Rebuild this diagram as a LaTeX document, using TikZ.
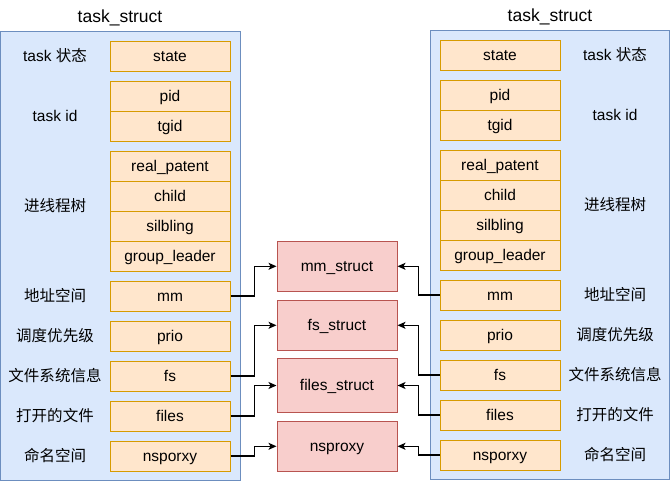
\documentclass[tikz,border=0pt]{standalone}
\usepackage{fontspec}
\setmainfont{Liberation Sans}
\newfontfamily\cjk{Noto Sans CJK SC}
\usetikzlibrary{arrows.meta}
\definecolor{panelfill}{HTML}{DAE8FC}
\definecolor{paneldraw}{HTML}{6C8EBF}
\definecolor{fieldfill}{HTML}{FFE6CC}
\definecolor{fielddraw}{HTML}{D79B00}
\definecolor{structfill}{HTML}{F8CECC}
\definecolor{structdraw}{HTML}{B85450}
\tikzset{
  txt/.style={font=\fontsize{15.5}{18}\selectfont, text height=13.5pt, text depth=3.5pt},
  panel/.style={draw=paneldraw, fill=panelfill, line width=1pt},
  field/.style={txt, draw=fielddraw, fill=fieldfill, line width=1pt, minimum width=120pt, minimum height=30pt, inner sep=0pt},
  sbox/.style={txt, draw=structdraw, fill=structfill, line width=1pt, minimum width=120pt, minimum height=50pt, inner sep=0pt},
  lbl/.style={txt, inner sep=0pt},
  ttl/.style={inner sep=0pt, font=\fontsize{17.5}{20}\selectfont, text height=15pt, text depth=4pt},
  arr/.style={draw=black, line width=1.2pt, -{Stealth[length=8pt,width=7pt,inset=2pt]}},
}
\begin{document}
\begin{tikzpicture}[x=1pt,y=-1pt]
\useasboundingbox (0,0) rectangle (671,482);
% panels
\draw[panel] (0.5,31.5) rectangle (240.5,480.5);
\draw[panel] (430.5,30.5) rectangle (669.5,479.5);
\node[ttl] (Ltitle) at (120,16.5) {task\_struct};
\node[ttl] (Rtitle) at (550,16) {task\_struct};
% left fields
\node[field] (Lstate) at (170,56) {state};
\node[field] (Lpid) at (170,96) {pid};
\node[field] (Ltgid) at (170,126) {tgid};
\node[field] (Lreal) at (170,166) {real\_patent};
\node[field] (Lchild) at (170,196) {child};
\node[field] (Lsil) at (170,226) {silbling};
\node[field] (Lgroup) at (170,256) {group\_leader};
\node[field] (Lmm) at (170,296) {mm};
\node[field] (Lprio) at (170,336) {prio};
\node[field] (Lfs) at (170,376) {fs};
\node[field] (Lfiles) at (170,416) {files};
\node[field] (Lns) at (170,456) {nsporxy};
% right fields
\node[field] (Rstate) at (500,55) {state};
\node[field] (Rpid) at (500,95) {pid};
\node[field] (Rtgid) at (500,125) {tgid};
\node[field] (Rreal) at (500,165) {real\_patent};
\node[field] (Rchild) at (500,195) {child};
\node[field] (Rsil) at (500,225) {silbling};
\node[field] (Rgroup) at (500,255) {group\_leader};
\node[field] (Rmm) at (500,295) {mm};
\node[field] (Rprio) at (500,335) {prio};
\node[field] (Rfs) at (500,375) {fs};
\node[field] (Rfiles) at (500,415) {files};
\node[field] (Rns) at (500,455) {nsporxy};
% left labels
\node[lbl] (La) at (55,56) {task {\cjk 状态}};
\node[lbl] (Lb) at (55,116) {task id};
\node[lbl] (Lc) at (55,206) {\cjk 进线程树};
\node[lbl] (Ld) at (55,296) {\cjk 地址空间};
\node[lbl] (Le) at (55,336) {\cjk 调度优先级};
\node[lbl] (Lf) at (55,376) {\cjk 文件系统信息};
\node[lbl] (Lg) at (55,416) {\cjk 打开的文件};
\node[lbl] (Lh) at (55,456) {\cjk 命名空间};
% right labels
\node[lbl] (Ra) at (615,55) {task {\cjk 状态}};
\node[lbl] (Rb) at (615,115) {task id};
\node[lbl] (Rc) at (615,205) {\cjk 进线程树};
\node[lbl] (Rd) at (615,295) {\cjk 地址空间};
\node[lbl] (Re) at (615,335) {\cjk 调度优先级};
\node[lbl] (Rf) at (615,375) {\cjk 文件系统信息};
\node[lbl] (Rg) at (615,415) {\cjk 打开的文件};
\node[lbl] (Rh) at (615,455) {\cjk 命名空间};
% middle structs
\node[sbox] (mm) at (337,266.3) {mm\_struct};
\node[sbox] (fs) at (337,325.3) {fs\_struct};
\node[sbox, minimum height=54pt] (files) at (337,385.5) {files\_struct};
\node[sbox] (ns) at (337,446.3) {nsproxy};
% connectors
\draw[arr] (Lmm.east) -- ++(24,0) |- (mm.west);
\draw[arr] (Lfs.east) -- ++(24,0) |- (fs.west);
\draw[arr] (Lfiles.east) -- ++(24,0) |- (files.west);
\draw[arr] (Lns.east) -- ++(24,0) |- (ns.west);
\draw[arr] (Rmm.west) -- ++(-21,0) |- (mm.east);
\draw[arr] (Rfs.west) -- ++(-21,0) |- (fs.east);
\draw[arr] (Rfiles.west) -- ++(-21,0) |- (files.east);
\draw[arr] (Rns.west) -- ++(-21,0) |- (ns.east);
\end{tikzpicture}
\end{document}
